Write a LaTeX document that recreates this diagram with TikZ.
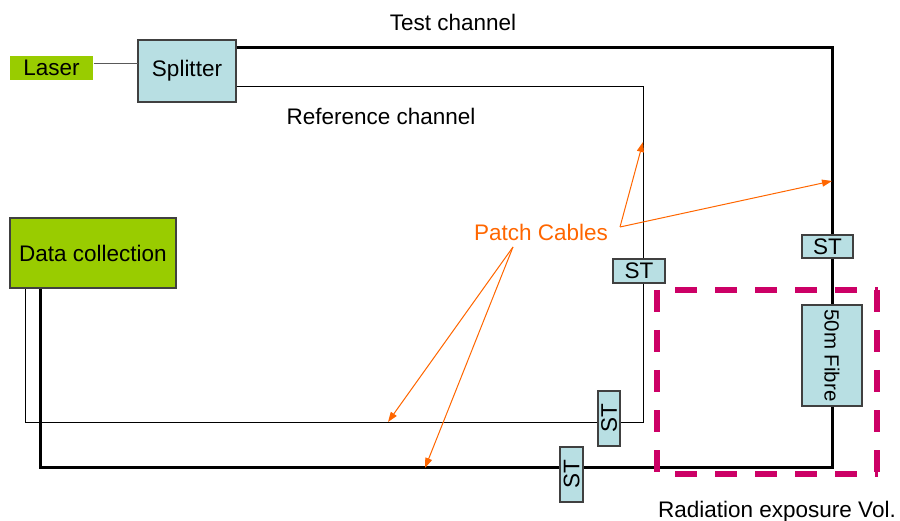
\documentclass[tikz,border=0pt]{standalone}
\usepackage{fontspec}
\setmainfont{Liberation Sans}
\usepackage{graphicx}
\usetikzlibrary{arrows.meta}
\definecolor{lgreen}{HTML}{99CC00}
\definecolor{lblue}{HTML}{B8DFE3}
\definecolor{bord}{HTML}{404040}
\definecolor{pink}{HTML}{CC0066}
\definecolor{orng}{HTML}{FF6600}
\tikzset{
  box/.style={draw=bord, line width=1.3pt, inner sep=0pt, font=\fontsize{22.5}{27}\selectfont},
  greenbox/.style={box, fill=lgreen},
  bluebox/.style={box, fill=lblue},
  lbl/.style={inner sep=0pt, font=\fontsize{22.5}{27}\selectfont},
  thickline/.style={line width=3pt, black},
  thinline/.style={line width=1pt, black},
  ptr/.style={orng, line width=1pt, -{Triangle[length=10pt,width=7pt]}},
  radvol/.style={pink, line width=6pt, dash pattern=on 22pt off 18pt},
}
\begin{document}
\begin{tikzpicture}[x=1pt,y=-1pt]
\useasboundingbox (0,0) rectangle (900,521);
% boxes
\node[greenbox, draw=none, minimum width=83pt, minimum height=24pt] (laser) at (51.5,68) {Laser};
\node[bluebox, minimum width=98pt, minimum height=62pt] (split) at (187,71) {Splitter};
\node[greenbox, minimum width=166pt, minimum height=70pt] (data) at (93,253) {Data collection};
\node[bluebox, minimum width=51pt, minimum height=23pt] (stR) at (827.5,246.5) {ST};
\node[bluebox, minimum width=60pt, minimum height=101pt, font=\fontsize{20.5}{24}\selectfont] (fib) at (832,355.5) {\rotatebox{-90}{50m Fibre}};
\node[bluebox, minimum width=52pt, minimum height=24pt] (stA) at (639,271) {ST};
\node[bluebox, minimum width=22pt, minimum height=55pt] (stC) at (609,418.5) {\rotatebox{90}{ST}};
\node[bluebox, minimum width=23pt, minimum height=55pt] (stB) at (571.5,474.5) {\rotatebox{90}{ST}};
% labels
\node[lbl] (tc) at (453,22) {Test channel};
\node[lbl] (rc) at (381,116) {Reference channel};
\node[lbl, text=orng] (pc) at (541,232) {Patch Cables};
\node[lbl] (rv) at (777,512) {Radiation exposure Vol.};
% coordinates
\coordinate (l1) at (138,64);
\coordinate (t1) at (832,48);
\coordinate (b1) at (832,467);
\coordinate (b2) at (40,467);
\coordinate (r1) at (643,87);
\coordinate (r2) at (643,422);
\coordinate (r3) at (25,422);
% laser line
\draw[gray!70!black, line width=1pt] (laser.east |- l1) -- (l1);
% test channel (thick)
\draw[thickline] (split.east |- t1) -- (t1) -- (t1 |- stR.north);
\draw[thickline] (t1 |- stR.south) -- (fib.north);
\draw[thickline] (fib.south) -- (b1) -- (stB.east |- b1);
\draw[thickline] (stB.west |- b1) -- (b2) -- (b2 |- data.south);
% reference channel (thin)
\draw[thinline] (split.east |- r1) -- (r1) -- (r1 |- stA.north);
\draw[thinline] (r1 |- stA.south) -- (r2) -- (stC.east |- r2);
\draw[thinline] (stC.west |- r2) -- (r3) -- (r3 |- data.south);
% radiation volume
\draw[radvol] (657,290) -- (657,474);
\draw[radvol] (675,290) -- (878,290);
\draw[radvol] (877,290) -- (877,474);
\draw[radvol] (675,474) -- (878,474);
% patch cable pointers
\coordinate (pa) at (620,227);
\coordinate (pb) at (513,247);
\coordinate (ta) at (643,142);
\coordinate (tb) at (832,181);
\coordinate (tc1) at (388,422);
\coordinate (td) at (425,468);
\draw[ptr] (pa) -- (ta);
\draw[ptr] (pa) -- (tb);
\draw[ptr] (pb) -- (tc1);
\draw[ptr] (pb) -- (td);
\end{tikzpicture}
\end{document}
